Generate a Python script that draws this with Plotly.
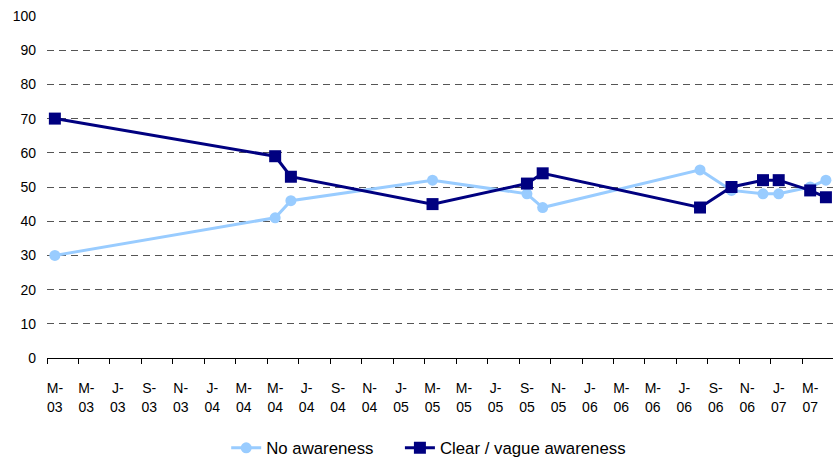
import plotly.graph_objects as go

# Survey waves (year-month) and shares of respondents (%)
survey_dates = ["2003-03", "2004-05", "2004-06", "2005-03", "2005-09", "2005-10",
                "2006-08", "2006-10", "2006-12", "2007-01", "2007-03", "2007-04"]
no_awareness = [30, 41, 46, 52, 48, 44, 55, 49, 48, 48, 50, 52]
clear_vague_awareness = [70, 59, 53, 45, 51, 54, 44, 50, 52, 52, 49, 47]

# Axis labels every two months, starting March 2003
tick_months = ["M", "M", "J", "S", "N",
               "J", "M", "M", "J", "S", "N",
               "J", "M", "M", "J", "S", "N",
               "J", "M", "M", "J", "S", "N",
               "J", "M"]
tick_years = ["03"] * 5 + ["04"] * 6 + ["05"] * 6 + ["06"] * 6 + ["07"] * 2
y_ticks = list(range(0, 101, 10))

START_YEAR, START_MONTH = 2003, 3


def month_slot(date_str):
    """Centre of the month's slot, counted in months from the axis start."""
    y, m = (int(p) for p in date_str.split("-"))
    return (y - START_YEAR) * 12 + (m - START_MONTH) + 0.5


x_pos = [month_slot(d) for d in survey_dates]
label_pos = [0.5 + 2 * i for i in range(len(tick_months))]

LIGHT = "#99CCFF"
DARK = "#000080"
FONT = "Liberation Sans, Arial, sans-serif"
TICK_SIZE = 14

fig = go.Figure()
fig.add_trace(go.Scatter(
    x=x_pos, y=no_awareness, name="No awareness", mode="lines+markers",
    line=dict(color=LIGHT, width=3),
    marker=dict(symbol="circle", size=11, color=LIGHT),
    legend="legend",
))
fig.add_trace(go.Scatter(
    x=x_pos, y=clear_vague_awareness, name="Clear / vague awareness",
    mode="lines+markers",
    line=dict(color=DARK, width=3),
    marker=dict(symbol="square", size=12, color=DARK),
    legend="legend2",
))
# invisible trace carrying the second (year) row of axis labels
fig.add_trace(go.Scatter(x=[label_pos[0]], y=[0], xaxis="x2", mode="markers",
                         marker=dict(opacity=0), showlegend=False,
                         hoverinfo="skip"))

x_range = [0, 49.95]
legend_style = dict(orientation="h", xanchor="left", y=-0.263,
                    yanchor="middle", font=dict(size=16.8), itemwidth=30)

fig.update_layout(
    width=833, height=460,
    margin=dict(l=47, r=0, t=16, b=102, autoexpand=False),
    paper_bgcolor="white", plot_bgcolor="white",
    font=dict(family=FONT, color="black", size=TICK_SIZE),
    showlegend=True,
    legend=dict(x=0.228, **legend_style),
    legend2=dict(x=0.449, **legend_style),
    xaxis=dict(
        range=x_range, showgrid=False, zeroline=False, automargin=False,
        showline=True, linecolor="black", linewidth=1,
        tickmode="array", tickvals=label_pos,
        ticktext=[m + "-" for m in tick_months],
        ticks="", ticklabelstandoff=17,
        minor=dict(tick0=0, dtick=2, ticks="outside", ticklen=5,
                   tickcolor="black", tickwidth=1, showgrid=False),
        tickfont=dict(size=TICK_SIZE),
    ),
    xaxis2=dict(
        range=x_range, overlaying="x", anchor="y", side="bottom",
        showgrid=False, zeroline=False, showline=False, automargin=False,
        tickmode="array", tickvals=label_pos, ticktext=tick_years,
        ticks="", ticklabelstandoff=39, tickfont=dict(size=TICK_SIZE),
    ),
    yaxis=dict(
        range=[0, 100], tickmode="array", tickvals=y_ticks, automargin=False,
        showgrid=True, gridcolor="#555555", gridwidth=1, griddash="7px,5px",
        zeroline=False, showline=False, ticks="", ticklabelstandoff=10,
        tickfont=dict(size=TICK_SIZE),
    ),
)

fig.write_html("out.html")
